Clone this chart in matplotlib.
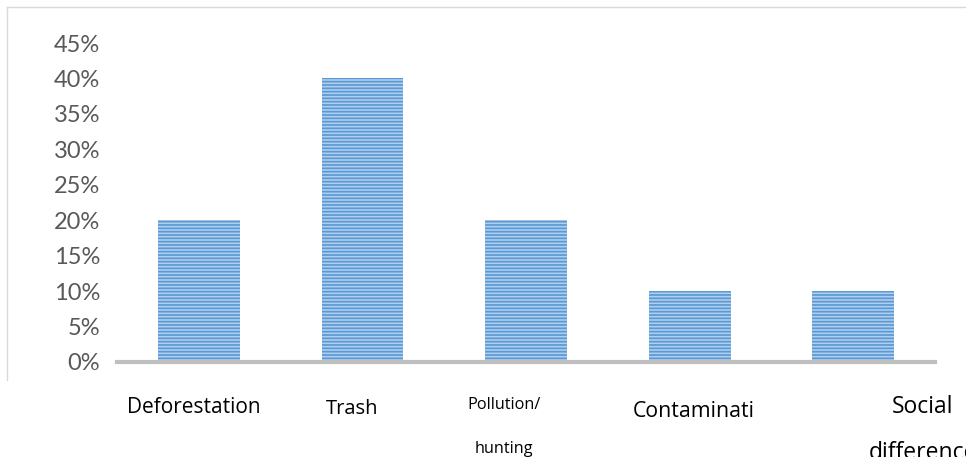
import matplotlib
matplotlib.use("Agg")
import matplotlib.pyplot as plt
from matplotlib.lines import Line2D
from matplotlib.transforms import blended_transform_factory

# Data
categories = ["Deforestation", "Trash", "Pollution/\nhunting", "Contaminati", "Social\ndifference"]
values = [0.20, 0.40, 0.20, 0.10, 0.10]
yticks = [0.00, 0.05, 0.10, 0.15, 0.20, 0.25, 0.30, 0.35, 0.40, 0.45]
ytick_labels = ["0%", "5%", "10%", "15%", "20%", "25%", "30%", "35%", "40%", "45%"]

W, H = 966, 457
plt.rcParams["hatch.linewidth"] = 1.3
plt.rcParams["hatch.color"] = "#5b9bd5"

fig = plt.figure(figsize=(W / 100, H / 100), dpi=100)
ax = fig.add_axes([117 / W, 95 / H, 818 / W, 319 / H])

x = list(range(len(categories)))
ax.bar(x, values, width=0.5, color="#b4cfee", edgecolor="#5b9bd5",
       linewidth=0, hatch="-----", zorder=2)

ax.set_xlim(-0.5, len(categories) - 0.5)
ax.set_ylim(0, 0.45)
ax.set_yticks(yticks)
ax.set_yticklabels(ytick_labels, fontsize=17, color="#595959", family="Lato")
ax.tick_params(axis="y", length=0, pad=12)
ax.set_xticks([])

for s in ["top", "right", "left"]:
    ax.spines[s].set_visible(False)
ax.spines["bottom"].set_color("#bfbfbf")
ax.spines["bottom"].set_linewidth(3)
ax.spines["bottom"].set_zorder(3)

# Category labels under the axis: x offset from the bar centre (in category units),
# baselines of the first and second line (pixels from top), font size
label_style = [
    dict(dx=-0.03, base=(413, None), size=15),
    dict(dx=-0.06, base=(414, None), size=14.5),
    dict(dx=-0.134, base=(409, 453), size=11.7),
    dict(dx=0.025, base=(417, None), size=15.3),
    dict(dx=0.427, base=(413, 459), size=16.5),
]
trans = blended_transform_factory(ax.transData, fig.transFigure)
for i, (cat, st) in enumerate(zip(categories, label_style)):
    for line, base in zip(cat.split("\n"), st["base"]):
        ax.text(i + st["dx"], 1 - base / H, line, transform=trans,
                ha="center", va="baseline", fontsize=st["size"],
                color="black", family="Open Sans", clip_on=False)

# Chart-area border (left and top edges)
fig.add_artist(Line2D([7 / W, 7 / W], [1 - 380 / H, 1 - 7 / H],
                      transform=fig.transFigure, color="#d9d9d9", linewidth=1))
fig.add_artist(Line2D([7 / W, 1.0], [1 - 7 / H, 1 - 7 / H],
                      transform=fig.transFigure, color="#d9d9d9", linewidth=1))

fig.savefig("out.png", dpi=100)
